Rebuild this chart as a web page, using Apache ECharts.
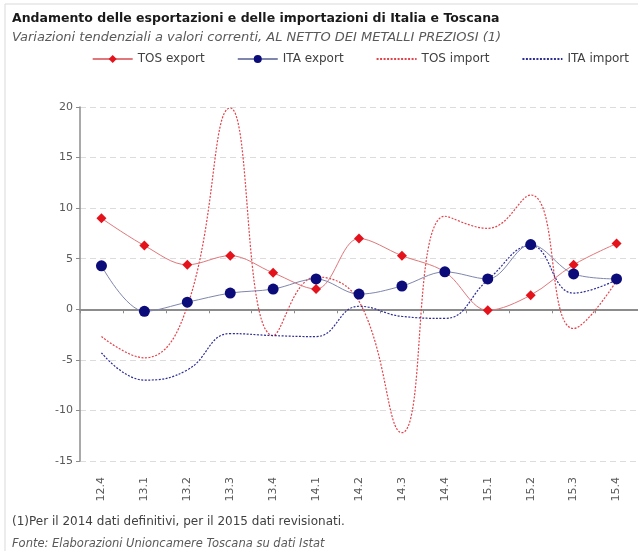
<!DOCTYPE html>
<html>
<head>
<meta charset="utf-8">
<script src="https://cdn.jsdelivr.net/npm/echarts@6/dist/echarts.min.js"></script>
<style>
  html, body { margin: 0; padding: 0; background: #fff; }
  #chart { width: 638px; height: 551px; }
</style>
</head>
<body>
<div id="chart"></div>
<script>
const categories = ['12.4', '13.1', '13.2', '13.3', '13.4', '14.1', '14.2', '14.3', '14.4', '15.1', '15.2', '15.3', '15.4']
const tosExport = [9.0, 6.3, 4.4, 5.3, 3.6, 2.0, 7.0, 5.3, 3.7, -0.1, 1.4, 4.4, 6.5]
const itaExport = [4.3, -0.2, 0.7, 1.6, 2.0, 3.0, 1.5, 2.3, 3.7, 3.0, 6.4, 3.5, 3.0]
const tosImport = [-2.7, -4.8, 0.3, 19.9, -2.6, 3.2, 0.8, -12.2, 9.2, 8.0, 11.3, -1.9, 2.8]
const itaImport = [-4.3, -7.0, -6.0, -2.4, -2.6, -2.7, 0.3, -0.7, -0.9, 2.9, 6.3, 1.6, 2.9]
const yTicks = [-15, -10, -5, 0, 5, 10, 15, 20]

const font = 'DejaVu Sans'
const noSymbol = { color: 'rgba(0,0,0,0)', borderWidth: 0 }

const option = {
  backgroundColor: '#fff',
  animation: false,
  graphic: [
    {
      type: 'polyline',
      shape: { points: [[5, 560], [5, 4], [640, 4]] },
      style: { stroke: '#d9d9d9', lineWidth: 1, fill: null }
    }
  ],
  title: [
    {
      text: 'Andamento delle esportazioni e delle importazioni di Italia e Toscana',
      left: 7,
      top: 7,
      textStyle: { fontFamily: font, fontSize: 12.5, fontWeight: 'bold', color: '#1a1a1a' }
    },
    {
      text: 'Variazioni tendenziali a valori correnti, AL NETTO DEI METALLI PREZIOSI (1)',
      left: 7,
      top: 26,
      textStyle: { fontFamily: font, fontSize: 13, fontStyle: 'italic', fontWeight: 'normal', color: '#595959' }
    },
    {
      text: '(1)Per il 2014 dati definitivi, per il 2015 dati revisionati.',
      left: 7,
      top: 511,
      textStyle: { fontFamily: font, fontSize: 12, fontWeight: 'normal', color: '#404040' }
    },
    {
      text: 'Fonte: Elaborazioni Unioncamere Toscana su dati Istat',
      left: 7,
      top: 533,
      textStyle: { fontFamily: font, fontSize: 11.5, fontStyle: 'italic', fontWeight: 'normal', color: '#595959' }
    }
  ],
  legend: {
    top: 48,
    right: 4,
    itemWidth: 40,
    itemHeight: 10,
    itemGap: 32,
    textStyle: { fontFamily: font, fontSize: 12, color: '#404040' },
    data: [
      'TOS export',
      'ITA export',
      { name: 'TOS import', itemStyle: noSymbol },
      { name: 'ITA import', itemStyle: noSymbol }
    ]
  },
  grid: {
    left: 80,
    top: 107,
    width: 563,
    height: 354
  },
  xAxis: [
    {
      type: 'category',
      data: categories,
      axisLine: { onZero: true, lineStyle: { color: '#8c8c8c', width: 2 } },
      axisTick: { show: true, length: 4, lineStyle: { color: '#8c8c8c' } },
      axisLabel: { show: false }
    },
    {
      type: 'category',
      data: categories,
      position: 'bottom',
      axisLine: { show: false, onZero: false },
      axisTick: { show: false },
      axisLabel: {
        rotate: 90,
        margin: 16,
        fontFamily: font,
        fontSize: 11,
        color: '#595959'
      }
    }
  ],
  yAxis: {
    type: 'value',
    min: yTicks[0],
    max: yTicks[yTicks.length - 1],
    interval: 5,
    axisLine: { show: true, lineStyle: { color: '#8c8c8c', width: 1.5 } },
    axisTick: { show: true, length: 4, lineStyle: { color: '#8c8c8c' } },
    axisLabel: { fontFamily: font, fontSize: 11, color: '#595959', margin: 7 },
    splitLine: { lineStyle: { color: '#dcdcdc', type: [6, 4] } }
  },
  series: [
    {
      name: 'TOS export',
      type: 'line',
      data: tosExport,
      smooth: 0.35,
      symbol: 'diamond',
      symbolSize: 10,
      itemStyle: { color: '#e3121b' },
      lineStyle: { color: '#e0777a', width: 1 },
      z: 4
    },
    {
      name: 'ITA export',
      type: 'line',
      data: itaExport,
      smooth: 0.35,
      symbol: 'circle',
      symbolSize: 11,
      itemStyle: { color: '#0b0b7a' },
      lineStyle: { color: '#7f86ad', width: 1 },
      z: 5
    },
    {
      name: 'TOS import',
      type: 'line',
      data: tosImport,
      smooth: 0.45,
      symbol: 'none',
      itemStyle: { color: '#e3424a' },
      lineStyle: { color: '#e3424a', width: 1.2, type: [2, 1.5] },
      z: 3
    },
    {
      name: 'ITA import',
      type: 'line',
      data: itaImport,
      smooth: 0.45,
      symbol: 'none',
      itemStyle: { color: '#2d2d96' },
      lineStyle: { color: '#2d2d96', width: 1.2, type: [2, 1.5] },
      z: 3
    }
  ]
}

const chart = echarts.init(document.getElementById('chart'))
chart.setOption(option)
</script>
</body>
</html>
